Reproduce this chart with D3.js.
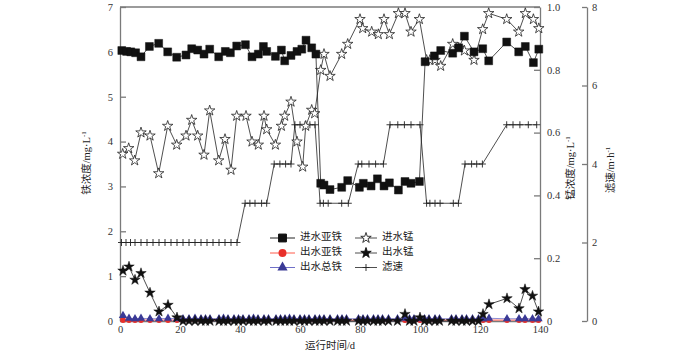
<!DOCTYPE html>
<html><head><meta charset="utf-8">
<script src="https://cdn.jsdelivr.net/npm/d3@7"></script>
<style>
html,body{margin:0;padding:0;background:#fff;}
text{font-family:"Liberation Serif","Noto Sans CJK SC",serif;}
</style></head>
<body><svg id="c" width="700" height="358"></svg>
<script>
// ---- data ----
const feInDays = [0.6,2.2,3.6,5.2,7,9.8,12.9,15.9,18.9,22,23.9,25.9,28,29.9,32.9,35.1,36.8,38.9,41.8,44,46.1,47.8,48.9,51.8,53.8,54.9,57,59,60.6,62,63.9,65.3,66.9,68,70,73.9,75.9,79.8,81.1,83.7,85.8,88,89.8,92.8,95,97,99.8,101.7,104.8,106.9,110.9,112.9,114.8,118,120.9,122.9,128.9,132.9,135.1,137.8,139.6];
const feIn = [6.03,6.01,6.00,5.98,5.89,6.12,6.19,6.00,5.88,5.93,6.07,6.04,5.95,6.06,5.89,6.01,5.98,6.13,6.16,5.89,5.95,6.12,6.01,5.90,6.04,5.80,5.92,6.01,6.06,6.26,6.09,5.95,3.07,3.03,2.93,2.98,3.13,2.98,3.07,3.01,3.17,3.01,3.08,2.92,3.11,3.07,3.11,5.78,5.91,6.03,5.97,6.09,6.35,6.00,6.07,5.80,6.22,6.00,6.12,5.76,6.06];

const mnInDays = [0.9,2.9,4.9,7,10,12.9,15.9,18.9,22,23.9,25.9,28,29.9,32.9,35,37,38.9,42,44,46.1,48,48.9,51.8,53.8,54.9,57,59,60.9,61.9,63.9,64.9,66.9,68,70,73.9,75.9,80,80.9,83.9,86.1,88,89.8,92.8,95,97,99.8,102.2,103.3,105,106.9,110.9,112.9,114.8,118,120.9,122.9,128.9,132.9,135.1,137.8,139.6];
const mnIn = [0.532,0.550,0.511,0.600,0.590,0.470,0.621,0.561,0.590,0.640,0.590,0.529,0.670,0.511,0.579,0.481,0.653,0.653,0.571,0.561,0.653,0.610,0.561,0.621,0.653,0.698,0.571,0.491,0.621,0.672,0.661,0.799,0.850,0.780,0.850,0.882,0.961,0.932,0.921,0.913,0.961,0.913,0.980,0.980,0.921,0.961,0.831,0.831,0.831,0.812,0.882,0.870,0.861,0.831,0.929,0.980,0.961,0.921,0.980,0.961,0.932];

const outDays = [1,3,5,7,10,13,16,19,21,23,25,27,28.5,30,33,34.5,36,38,39.5,41,43,44.5,46,48,49.5,52,53.5,55,56.5,58,60,61.5,63,65,66.5,68,70,72.5,74,75.5,79.5,81,82.5,84.5,86,87.5,89.5,92.5,95,96.5,98,100,101.5,103,105,106.5,110.5,112,114,115.5,117.5,119.5,121,123,129,133,135,137.5,139.5];
const mnOut = [0.160,0.173,0.131,0.152,0.090,0.030,0.051,0.011,0,0,0,0,0,0,0,0,0,0,0,0,0,0,0,0,0,0,0,0,0,0,0,0,0,0,0,0,0,0,0,0,0,0,0,0,0,0,0,0,0.022,0,0,0.011,0,0,0,0,0,0,0,0,0,0,0.022,0.053,0.072,0.040,0.101,0.080,0.030];
const feOut2 = [0.02,0.02,0.02,0.02,0.02,0.02,0.02,0.02,0.02,0.02,0.02,0.02,0.02,0.02,0.02,0.02,0.02,0.02,0.02,0.02,0.02,0.02,0.02,0.02,0.02,0.02,0.02,0.02,0.02,0.02,0.02,0.02,0.02,0.02,0.02,0.02,0.02,0.02,0.02,0.02,0.02,0.02,0.02,0.02,0.02,0.02,0.02,0.02,0.02,0.02,0.02,0.02,0.02,0.02,0.02,0.02,0.02,0.02,0.02,0.02,0.02,0.02,0.02,0.02,0.02,0.02,0.02,0.02,0.02];
const feOutTotal = [0.12,0.06,0.05,0.06,0.05,0.05,0.06,0.05,0.05,0.05,0.06,0.05,0.05,0.05,0.05,0.06,0.05,0.05,0.05,0.05,0.05,0.06,0.05,0.05,0.05,0.05,0.05,0.05,0.06,0.05,0.05,0.05,0.05,0.05,0.05,0.05,0.05,0.05,0.05,0.05,0.05,0.05,0.05,0.05,0.05,0.05,0.05,0.05,0.06,0.05,0.05,0.05,0.05,0.05,0.05,0.05,0.05,0.05,0.05,0.05,0.05,0.05,0.05,0.06,0.05,0.05,0.05,0.05,0.05];

const rateDays = [0.5,2,3.5,5,7,9,11,13,15,17,19,21,23,25,27,29,31,33,35,37,39,41.7,43.3,45,47.2,48.9,51.4,53.3,55.2,57,58.3,60,61.7,63.3,65,66.7,67.8,69.4,73.9,76.1,79.4,80.6,83,85.2,87.8,90,92.6,94.8,97,100,102.2,103.3,105,106.7,111.1,112.8,115,117.2,118.9,120.8,128.9,131,133.3,136.1,138.9];
const rate = [2,2,2,2,2,2,2,2,2,2,2,2,2,2,2,2,2,2,2,2,2,3,3,3,3,3,4,4,4,4,5,5,5,5,5,3,3,3,3,3,4,4,4,4,4,5,5,5,5,5,3,3,3,3,3,3,4,4,4,4,5,5,5,5,5];

const xTicks = [0,20,40,60,80,100,120,140];
const feTicks = [0,1,2,3,4,5,6,7];
const mnTicks = [0,0.2,0.4,0.6,0.8,1.0];
const rateTicks = [0,2,4,6,8];
const legendLeft = ["进水亚铁","出水亚铁","出水总铁"];
const legendRight = ["进水锰","出水锰","滤速"];

// ---- scales ----
const svg = d3.select("#c");
const x = d3.scaleLinear([0,140],[120,540]);
const yFe = d3.scaleLinear([0,7],[321,7]);
const yMn = d3.scaleLinear([0,1],[321,7]);
const yRate = d3.scaleLinear([0,8],[321,7]);
const axisColor = "#7a7a7a";

function styleAxis(g){
  g.selectAll("path,line").attr("stroke",axisColor).attr("stroke-width",1.3);
  g.selectAll("text").attr("fill","#333").attr("font-size",10.5).attr("font-family","Liberation Serif, serif");
}
svg.append("line").attr("x1",120).attr("x2",540).attr("y1",7).attr("y2",7).attr("stroke",axisColor).attr("stroke-width",1.3);
svg.append("g").attr("transform","translate(120,0)")
  .call(d3.axisLeft(yFe).tickValues(feTicks).tickSize(-6).tickSizeOuter(0).tickPadding(7).tickFormat(d3.format("d"))).call(styleAxis);
svg.append("g").attr("transform","translate(0,321)")
  .call(d3.axisBottom(x).tickValues(xTicks).tickSize(-5).tickSizeOuter(0).tickPadding(5)).call(styleAxis);
svg.append("g").attr("transform","translate(540,0)")
  .call(d3.axisRight(yMn).tickValues(mnTicks).tickSize(-6).tickSizeOuter(0).tickPadding(7).tickFormat(d=>d===0?"0":d3.format(".1f")(d))).call(styleAxis);
svg.append("g").attr("transform","translate(587,0)")
  .call(d3.axisRight(yRate).tickValues(rateTicks).tickSize(-5).tickSizeOuter(0).tickPadding(5).tickFormat(d3.format("d"))).call(styleAxis);

// axis titles
function title(xp,yp,rot,main,sup){
  const t = svg.append("text").attr("transform",`translate(${xp},${yp}) rotate(${rot})`)
    .attr("text-anchor","middle").attr("dominant-baseline","middle").attr("font-size",10.5).attr("fill","#222")
    .attr("font-family","Liberation Serif, Noto Sans CJK SC, serif");
  t.append("tspan").text(main);
  if(sup){ t.append("tspan").attr("font-size",7).attr("dy",-4).text(sup); }
}
title(88,163,-90,"铁浓度/mg·L","-1");
title(572,168,-90,"锰浓度/mg·L","-1");
title(612,170,-90,"滤速/m·h","-1");
title(330,347,0,"运行时间/d",null);

// ---- markers ----
const sq = d3.symbol().type(d3.symbolSquare).size(62)();
const star = d3.symbol().type(d3.symbolStar).size(34)();
const tri = d3.symbol().type(d3.symbolTriangle).size(30)();
const circ = d3.symbol().type(d3.symbolCircle).size(26)();
const plusPath = "M-3.5,0H3.5M0,-3.5V3.5";

function zip(a,b){return a.map((d,i)=>[d,b[i]]);}
function series(data,yS,lineColor,lw,path,fill,stroke,sw){
  const g = svg.append("g");
  g.append("path").datum(data).attr("fill","none").attr("stroke",lineColor).attr("stroke-width",lw)
    .attr("d",d3.line().x(d=>x(d[0])).y(d=>yS(d[1])));
  g.selectAll("path.m").data(data).join("path").attr("class","m")
    .attr("transform",d=>`translate(${x(d[0])},${yS(d[1])})`).attr("d",path)
    .attr("fill",fill).attr("stroke",stroke).attr("stroke-width",sw);
}
series(zip(rateDays,rate),yRate,"#222",0.8,plusPath,"none","#222",0.9);
series(zip(mnInDays,mnIn),yMn,"#222",0.8,star,"#fff","#222",0.8);
series(zip(feInDays,feIn),yFe,"#222",0.8,sq,"#111","#111",0.5);
series(zip(outDays,feOut2),yFe,"#ff5a4a",1,circ,"#e8302a","none",0);
series(zip(outDays,feOutTotal),yFe,"#7070c8",0.8,tri,"#3a3a96","none",0);
series(zip(outDays,mnOut),yMn,"#222",0.8,star,"#111","#111",0.5);

// ---- legend ----
const rowsY = [238,253,267.5];
const leftStyles = [
  {line:"#222",path:sq,fill:"#111",stroke:"#111"},
  {line:"#ff5a4a",path:d3.symbol().type(d3.symbolCircle).size(50)(),fill:"#e8302a",stroke:"none"},
  {line:"#7070c8",path:d3.symbol().type(d3.symbolTriangle).size(45)(),fill:"#3a3a96",stroke:"none"}];
const rightStyles = [
  {path:star,fill:"#fff",stroke:"#222"},
  {path:star,fill:"#111",stroke:"#111"},
  {path:plusPath,fill:"none",stroke:"#222"}];
legendLeft.forEach((t,i)=>{
  const g = svg.append("g").attr("transform",`translate(0,${rowsY[i]})`);
  g.append("line").attr("x1",270).attr("x2",295).attr("stroke",leftStyles[i].line).attr("stroke-width",1);
  g.append("path").attr("transform","translate(282.5,0)").attr("d",leftStyles[i].path).attr("fill",leftStyles[i].fill).attr("stroke",leftStyles[i].stroke);
  g.append("text").attr("x",300).attr("dominant-baseline","middle").attr("font-size",10.5).attr("fill","#222")
    .attr("font-family","Noto Sans CJK SC, sans-serif").text(t);
});
legendRight.forEach((t,i)=>{
  const g = svg.append("g").attr("transform",`translate(0,${rowsY[i]})`);
  g.append("line").attr("x1",355).attr("x2",377).attr("stroke","#222").attr("stroke-width",0.8);
  g.append("path").attr("transform","translate(366,0)").attr("d",rightStyles[i].path).attr("fill",rightStyles[i].fill).attr("stroke",rightStyles[i].stroke).attr("stroke-width",0.9);
  g.append("text").attr("x",382).attr("dominant-baseline","middle").attr("font-size",10.5).attr("fill","#222")
    .attr("font-family","Noto Sans CJK SC, sans-serif").text(t);
});
</script></body></html>
